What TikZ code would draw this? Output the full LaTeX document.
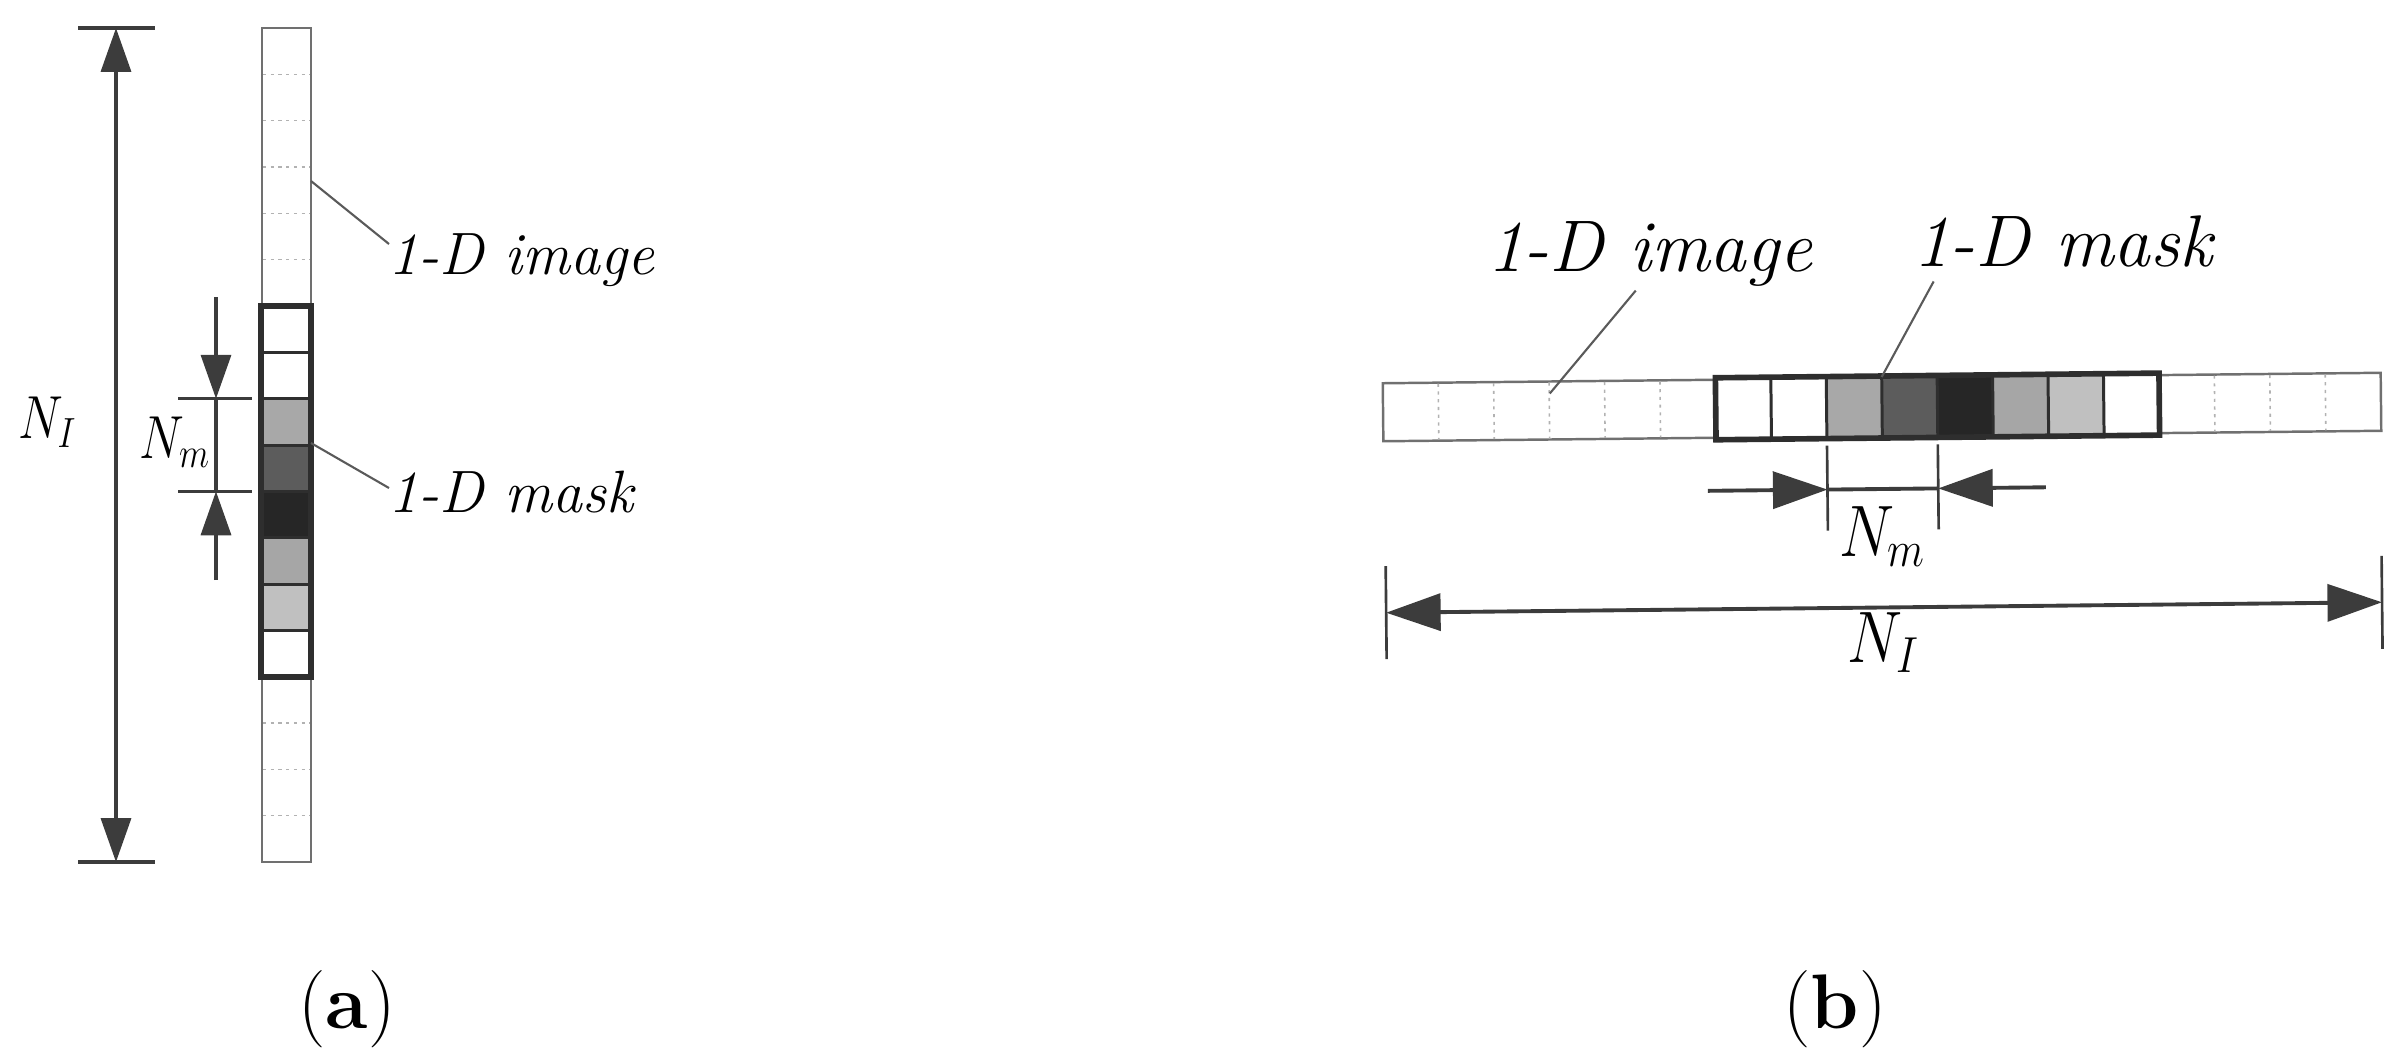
\documentclass[tikz,border=0pt]{standalone}
\usetikzlibrary{arrows.meta}
\definecolor{dimc}{HTML}{3C3C3C}
\definecolor{barc}{HTML}{707070}
\definecolor{maskc}{HTML}{2E2E2E}
\definecolor{leadc}{HTML}{5A5A5A}
\definecolor{gA}{HTML}{A8A8A8}
\definecolor{gB}{HTML}{5C5C5C}
\definecolor{gC}{HTML}{262626}
\definecolor{gD}{HTML}{A6A6A6}
\definecolor{gE}{HTML}{C0C0C0}
\begin{document}
\begin{tikzpicture}[x=0.01cm,y=-0.01cm,
  barline/.style={draw=barc,line width=0.7pt},
  dotsep/.style={draw=gray!60,line width=0.45pt,dash pattern=on 0.9pt off 1.3pt},
  masksep/.style={draw=maskc,line width=0.85pt},
  maskouter/.style={draw=maskc,line width=1.6pt},
  dimline/.style={draw=dimc,line width=1.1pt},
  bigtick/.style={draw=dimc,line width=1.4pt},
  smalltick/.style={draw=dimc,line width=0.75pt},
  leader/.style={draw=leadc,line width=0.6pt},
  tipA/.tip={Triangle[length=12.5pt,width=8.5pt]},
  tipB/.tip={Triangle[length=15.5pt,width=10.5pt]},
  lblA/.style={inner sep=0pt,font=\fontsize{17}{20}\selectfont\itshape},
  mathA/.style={inner sep=0pt,font=\fontsize{18}{21}\selectfont},
  lblB/.style={inner sep=0pt,font=\fontsize{20.8}{24}\selectfont\itshape},
  mathB/.style={inner sep=0pt,font=\fontsize{20.8}{24}\selectfont},
  captext/.style={inner sep=0pt,font=\fontsize{22}{26}\selectfont}
]
\useasboundingbox (0,0) rectangle (2400,1056);

% ================= panel (a) =================
\def\ca{46.333}
\draw[barline] (262,28) rectangle (311,862);
\foreach \i in {1,2,3,4,5,15,16,17}
  \draw[dotsep] (263,{28+\i*\ca}) -- (310,{28+\i*\ca});
\foreach \i/\col in {0/white,1/white,2/gA,3/gB,4/gC,5/gD,6/gE,7/white}
  \fill[\col] (262,{306+\i*\ca}) rectangle (311,{306+(\i+1)*\ca});
\foreach \i in {1,...,7}
  \draw[masksep] (262,{306+\i*\ca}) -- (311,{306+\i*\ca});
\draw[maskouter] (261,306) rectangle (311,676.7);

% N_I dimension
\coordinate (aTop) at (116,28);
\coordinate (aBot) at (116,862);
\draw[bigtick] (78,28) -- (155,28);
\draw[bigtick] (78,862) -- (155,862);
\draw[dimline,tipA-tipA] (aTop) -- (aBot);
\node[mathA,anchor=base] (NIa) at (47.5,438) {\scalebox{0.83}[1]{$N_I$}};

% N_m dimension
\coordinate (amA) at (216,398.7);
\coordinate (amB) at (216,491.3);
\coordinate (amTop) at (216,297);
\coordinate (amBot) at (216,580);
\draw[smalltick] (178,398.7) -- (252,398.7);
\draw[smalltick] (178,491.3) -- (252,491.3);
\draw[dimline,-tipA] (amTop) -- (amA);
\draw[dimline] (amA) -- (amB);
\draw[dimline,-tipA] (amBot) -- (amB);
\node[mathA,anchor=base] (Nma) at (175,458) {\scalebox{0.83}[1]{$N_m$}};

% labels
\node[lblA,anchor=base west] (imgA) at (388,274) {1-D image};
\node[lblA,anchor=base west] (mskA) at (388,512) {1-D mask};
\coordinate (imgAs) at (311,181);
\coordinate (imgAe) at (389,244);
\coordinate (mskAs) at (311,443);
\coordinate (mskAe) at (389,488);
\draw[leader] (imgAs) -- (imgAe);
\draw[leader] (mskAs) -- (mskAe);

\node[captext] (capA) at (347,1009) {(\textbf{a})};

% ================= panel (b) =================
\begin{scope}[rotate around={0.6:(1882,407)}]
\def\cb{55.444}
\draw[barline] (1383,378) rectangle (2381,436);
\foreach \i in {1,2,3,4,5,15,16,17}
  \draw[dotsep] ({1383+\i*\cb},379) -- ({1383+\i*\cb},435);
\foreach \i/\col in {0/white,1/white,2/gA,3/gB,4/gC,5/gD,6/gE,7/white}
  \fill[\col] ({1715.67+\i*\cb},378) rectangle ({1715.67+(\i+1)*\cb},436);
\foreach \i in {1,...,7}
  \draw[masksep] ({1715.67+\i*\cb},378) -- ({1715.67+\i*\cb},436);
\draw[maskouter] (1715.67,376) rectangle (2159.3,438);

% N_m dimension
\coordinate (bmA) at (1826.6,489);
\coordinate (bmB) at (1937.4,489);
\coordinate (bmL) at (1707,489);
\coordinate (bmR) at (2045,489);
\draw[smalltick] (1826.6,445) -- (1826.6,530);
\draw[smalltick] (1937.4,445) -- (1937.4,530);
\draw[dimline,-tipB] (bmL) -- (bmA);
\draw[dimline] (bmA) -- (bmB);
\draw[dimline,-tipB] (bmR) -- (bmB);
\node[mathB,anchor=base] (Nmb) at (1881,556) {\scalebox{0.85}[1]{$N_m$}};

% N_I dimension
\coordinate (bL) at (1384,607.5);
\coordinate (bR) at (2380,607.5);
\draw[smalltick] (1384,561) -- (1384,654);
\draw[smalltick] (2380,561) -- (2380,654);
\draw[dimline,tipB-tipB] (bL) -- (bR);
\node[mathB,anchor=base] (NIb) at (1881,662) {\scalebox{0.85}[1]{$N_I$}};

% labels
\node[lblB,anchor=base west] (imgB) at (1488,267) {1-D image};
\node[lblB,anchor=base west] (mskB) at (1914,267) {1-D mask};
\coordinate (imgBs) at (1637,288);
\coordinate (imgBe) at (1550,390);
\coordinate (mskBs) at (1935,282);
\coordinate (mskBe) at (1882,377);
\draw[leader] (imgBs) -- (imgBe);
\draw[leader] (mskBs) -- (mskBe);
\end{scope}

\node[captext] (capB) at (1835,1009) {(\textbf{b})};
\end{tikzpicture}
\end{document}
